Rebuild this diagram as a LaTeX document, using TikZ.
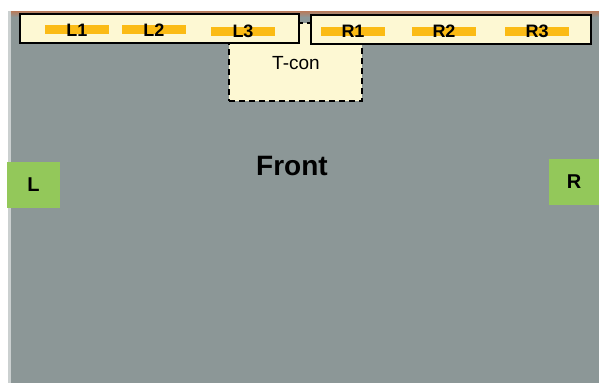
\documentclass[tikz,border=0pt]{standalone}
\usepackage{fontspec}
\setmainfont{Liberation Sans}
\usetikzlibrary{positioning}

\definecolor{panelgray}{HTML}{8C9797}
\definecolor{copper}{HTML}{B97A5A}
\definecolor{stripyellow}{HTML}{FDF8D3}
\definecolor{barorange}{HTML}{FBBB15}
\definecolor{sidegreen}{HTML}{93C85A}

\tikzset{
  strip/.style={draw=black, line width=1.8pt, fill=stripyellow, inner sep=0pt},
  tconbox/.style={draw=black, line width=1.9pt, dash pattern=on 6pt off 4pt, fill=stripyellow, inner sep=0pt},
  bar/.style={fill=barorange, inner sep=0pt, minimum width=64pt, minimum height=9pt},
  tag/.style={font=\bfseries\fontsize{18}{18}\selectfont, inner sep=0pt},
  side/.style={fill=sidegreen, inner sep=0pt, font=\bfseries\fontsize{20}{20}\selectfont},
}

\begin{document}
\begin{tikzpicture}[x=1pt,y=-1pt]
		%%%%% START %%%%%
		
		\useasboundingbox[fill=white] (0,0) rectangle (599,383);
		
		% panel
		\fill[panelgray] (8,11) rectangle (599,383);
		\fill[top color=copper, bottom color=panelgray] (8,11) rectangle (599,17);
		\fill[white!55!panelgray] (8,11) rectangle (11,383);
		
		% timing controller
		\node[tconbox, minimum width=133pt, minimum height=78pt] (tcon) at (295.5,62) {};
		\node[font=\fontsize{19}{19}\selectfont, inner sep=0pt] (tcontext) at (296,63) {T-con};
		
		% source strips
		\node[strip, minimum width=279pt, minimum height=29pt] (lstrip) at (159.5,28.5) {};
		\node[strip, minimum width=280pt, minimum height=29pt] (rstrip) at (451,29.5) {};
		
		\foreach \n/\x/\y in {L1/77/29.5, L2/154/29.5, L3/243/31, R1/353/31, R2/444/31, R3/537/31}{
			\node[bar] (bar\n) at (\x,\y) {};
			\node[tag] (tag\n) at (\x,\y+0.5) {\n};
		}
		
		% side panels
		\node[side, minimum width=53pt, minimum height=46pt] (lside) at (33.5,185) {L};
		\node[side, minimum width=50pt, minimum height=46pt] (rside) at (574,182) {R};
		
		\node[font=\bfseries\fontsize{28}{28}\selectfont, inner sep=0pt] (front) at (292,166) {Front};
		
		%%%%% END %%%%%
	\end{tikzpicture}
\end{document}
